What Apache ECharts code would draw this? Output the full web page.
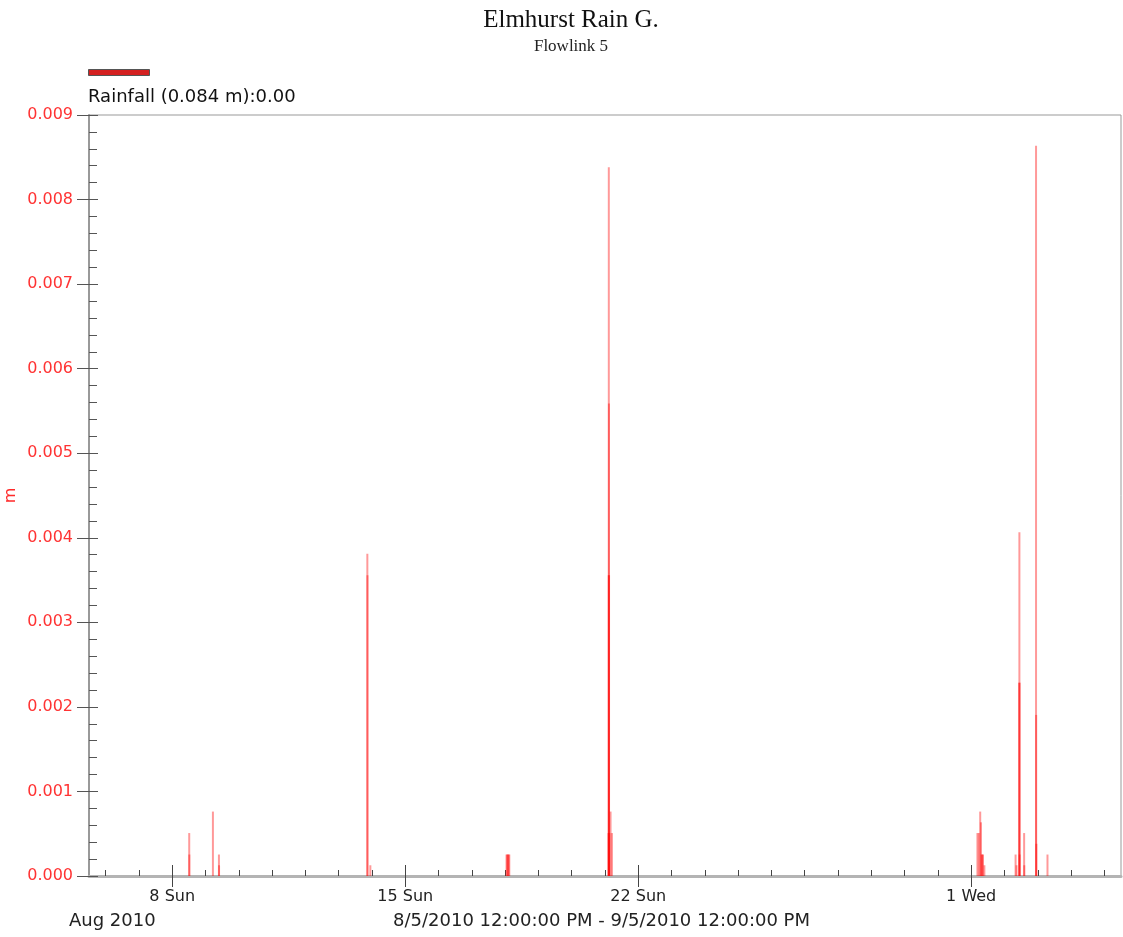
<!DOCTYPE html>
<html>
<head>
<meta charset="utf-8">
<title>Elmhurst Rain G.</title>
<script src="https://cdn.jsdelivr.net/npm/echarts@6/dist/echarts.min.js"></script>
<style>
  html, body { margin: 0; padding: 0; background: #fff; }
  #chart { width: 1123px; height: 937px; }
</style>
</head>
<body>
<div id="chart"></div>
<script>
var startTime = '2010-08-05 12:00';
var endTime = '2010-09-05 12:00';
var labelDays = ['2010-08-08', '2010-08-15', '2010-08-22', '2010-09-01'];
var weekDays = ['Sun', 'Mon', 'Tue', 'Wed', 'Thu', 'Fri', 'Sat'];

// rain gauge samples (m)
var rainTimes = [
  '2010-08-08 12:15', '2010-08-08 12:20', '2010-08-09 05:20', '2010-08-09 09:40', '2010-08-09 09:45',
  '2010-08-13 20:40', '2010-08-13 20:45', '2010-08-13 22:50',
  '2010-08-18 01:00', '2010-08-18 01:30', '2010-08-18 02:00', '2010-08-18 02:30', '2010-08-18 03:00',
  '2010-08-21 02:30', '2010-08-21 02:40', '2010-08-21 02:45', '2010-08-21 02:50', '2010-08-21 02:55',
  '2010-08-21 03:10', '2010-08-21 04:00', '2010-08-21 05:00',
  '2010-09-01 04:30', '2010-09-01 05:30', '2010-09-01 06:30', '2010-09-01 07:00', '2010-09-01 07:30',
  '2010-09-01 08:00', '2010-09-01 08:30', '2010-09-01 09:30',
  '2010-09-02 08:00', '2010-09-02 08:40', '2010-09-02 10:40', '2010-09-02 10:45', '2010-09-02 10:50',
  '2010-09-02 10:55', '2010-09-02 14:10', '2010-09-02 14:15',
  '2010-09-02 22:45', '2010-09-02 22:50', '2010-09-02 23:00', '2010-09-03 07:00'
];
var rainValues = [
  0.000508, 0.000254, 0.000762, 0.000254, 0.000127,
  0.00381, 0.003556, 0.000127,
  0.000254, 0.000254, 0.000254, 0.000254, 0.000254,
  0.000508, 0.003556, 0.008382, 0.005588, 0.003556,
  0.000508, 0.000762, 0.000508,
  0.000508, 0.000508, 0.000762, 0.000635, 0.000254,
  0.000254, 0.000254, 0.000127,
  0.000254, 0.000127, 0.002286, 0.004064, 0.002286,
  0.000254, 0.000508, 0.000127,
  0.008636, 0.001905, 0.000381, 0.000254
];

function toTime(s) {
  var p = s.split(/[- :]/);
  return new Date(+p[0], p[1] - 1, +p[2], +(p[3] || 0), +(p[4] || 0)).getTime();
}

var xMin = toTime(startTime);
var xMax = toTime(endTime);

// one small tick per midnight
var dayTicks = [];
var d = new Date(xMin);
d.setHours(0, 0, 0, 0);
d.setDate(d.getDate() + 1);
while (d.getTime() < xMax) {
  dayTicks.push(d.getTime());
  d.setDate(d.getDate() + 1);
}
var majorTicks = labelDays.map(toTime);

var rainData = rainTimes.map(function (t, i) {
  return [toTime(t), rainValues[i]];
});

var labelFont = 'DejaVu Sans, Verdana, sans-serif';
var serifFont = 'Liberation Serif, Times New Roman, serif';

var chart = echarts.init(document.getElementById('chart'));

chart.setOption({
  animation: false,
  backgroundColor: '#fff',
  title: {
    text: 'Elmhurst Rain G.',
    subtext: 'Flowlink 5',
    left: 566,
    textAlign: 'center',
    top: 3,
    itemGap: 5,
    textStyle: { fontFamily: serifFont, fontSize: 25, fontWeight: 'normal', color: '#111' },
    subtextStyle: { fontFamily: serifFont, fontSize: 17, color: '#222' }
  },
  legend: {
    left: 88,
    top: 69,
    padding: 0,
    itemWidth: 61,
    itemHeight: 6,
    icon: 'rect',
    formatter: function () { return ''; },
    data: [{ name: 'Rainfall', itemStyle: { color: '#d42020', borderColor: '#555', borderWidth: 1 } }]
  },
  graphic: [
    {
      type: 'text', left: 88, top: 88,
      style: { text: 'Rainfall (0.084 m):0.00', fontFamily: labelFont, fontSize: 18, fill: '#111' }
    },
    {
      type: 'text', left: 69, top: 912,
      style: { text: 'Aug 2010', fontFamily: labelFont, fontSize: 18, fill: '#222' }
    },
    {
      type: 'text', left: 393, top: 912,
      style: { text: '8/5/2010 12:00:00 PM - 9/5/2010 12:00:00 PM', fontFamily: labelFont, fontSize: 18, fill: '#222' }
    }
  ],
  grid: {
    left: 89,
    right: 2,
    top: 115,
    bottom: 61,
    containLabel: false,
    outerBoundsMode: 'none',
    show: true,
    borderColor: '#999',
    borderWidth: 1
  },
  xAxis: [
    {
      type: 'value',
      min: xMin,
      max: xMax,
      position: 'bottom',
      axisLine: { onZero: false, lineStyle: { color: '#b4b4b4', width: 3 } },
      axisTick: { inside: true, length: 6, customValues: dayTicks, lineStyle: { color: '#444' } },
      axisLabel: { show: false },
      splitLine: { show: false }
    },
    {
      type: 'value',
      min: xMin,
      max: xMax,
      position: 'bottom',
      axisLine: { show: false, onZero: false },
      axisTick: { length: 11, customValues: majorTicks, lineStyle: { color: '#444' } },
      axisLabel: {
        customValues: majorTicks,
        margin: 13,
        fontFamily: labelFont,
        fontSize: 16,
        color: '#222',
        formatter: function (v) {
          var dt = new Date(v);
          return dt.getDate() + ' ' + weekDays[dt.getDay()];
        }
      },
      splitLine: { show: false }
    },
    {
      type: 'value',
      min: xMin,
      max: xMax,
      position: 'bottom',
      axisLine: { show: false, onZero: false },
      axisTick: { inside: true, length: 11, customValues: majorTicks, lineStyle: { color: '#444' } },
      axisLabel: { show: false },
      splitLine: { show: false }
    }
  ],
  yAxis: [
    {
      type: 'value',
      min: 0,
      max: 0.009,
      interval: 0.001,
      name: 'm',
      nameLocation: 'middle',
      nameGap: 70,
      nameMoveOverlap: false,
      nameTextStyle: { color: '#ff2a2a', fontFamily: labelFont, fontSize: 16 },
      axisLine: { show: true, lineStyle: { color: '#999', width: 2 } },
      axisTick: { show: true, length: 12, lineStyle: { color: '#555' } },
      axisLabel: {
        margin: 16,
        fontFamily: labelFont,
        fontSize: 16,
        color: '#ff3333',
        formatter: function (v) { return v.toFixed(3); }
      },
      splitLine: { show: false }
    },
    {
      type: 'value',
      min: 0,
      max: 0.009,
      interval: 0.001,
      position: 'left',
      axisLine: { show: false },
      axisTick: { show: true, inside: true, length: 9, lineStyle: { color: '#555' } },
      minorTick: { show: true, splitNumber: 5, length: 8, lineStyle: { color: '#555' } },
      axisLabel: { show: false },
      splitLine: { show: false }
    }
  ],
  series: [
    {
      name: 'Rainfall',
      type: 'bar',
      xAxisIndex: 0,
      yAxisIndex: 0,
      barWidth: 2,
      large: false,
      itemStyle: { color: 'rgba(255, 0, 0, 0.4)' },
      data: rainData
    }
  ]
});
</script>
</body>
</html>
